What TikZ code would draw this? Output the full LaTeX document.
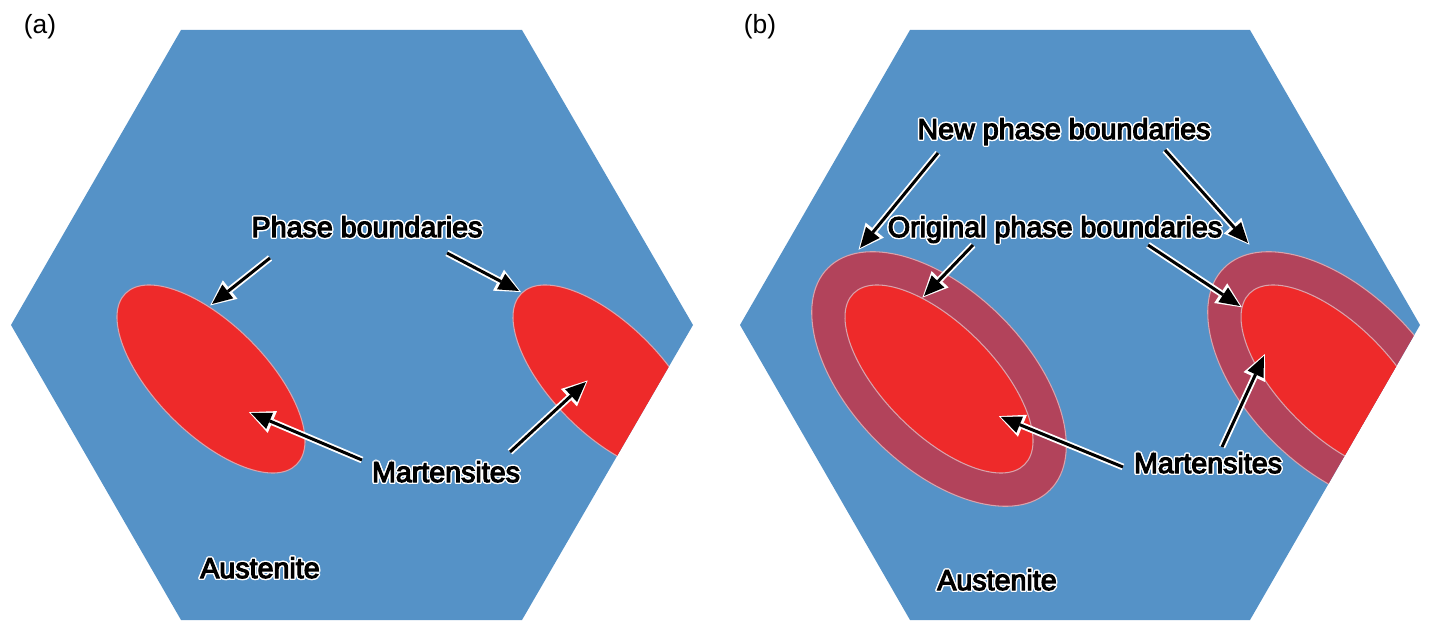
\documentclass[tikz,border=0pt]{standalone}
\usepackage{fontspec}
\setmainfont{Liberation Sans}
\usepackage{tikz}
\usetikzlibrary{arrows.meta}

\definecolor{austen}{HTML}{5592C7}
\definecolor{marten}{HTML}{EE2A2A}
\definecolor{grown}{HTML}{B2435B}
\definecolor{rim}{HTML}{D9A3AC}

\font\glowfont="Liberation Sans:color=FFFFFF;embolden=4" at 16.3pt
\font\inkfont="Liberation Sans:color=000000;embolden=4" at 16.3pt

\newcommand\halolabel[3]{%
  \foreach \ang in {0,30,...,330}
    \node[lbl, shift={(\ang:0.8pt)}] at (#2) {\glowfont #3};
  \node[lbl] (#1) at (#2) {\inkfont #3};}

\begin{document}
\begin{tikzpicture}[x=0.02cm, y=-0.02cm,
                    grain/.style={fill=austen},
                    mart/.style={fill=marten, draw=rim, line width=.6pt},
                    ring/.style={fill=grown, draw=rim, line width=.6pt},
                    lbl/.style={anchor=base, inner sep=0pt},
                    tag/.style={font=\fontsize{15}{17}\selectfont, anchor=base, inner sep=0pt},
                    arr/.style={line width=1.7pt, -{Triangle[length=11.5pt, width=10pt, line width=0pt]},
                      preaction={draw=white, line width=3.8pt, shorten >=-1.3pt,
                        -{Triangle[length=14.5pt, width=13.5pt, line width=0pt]}}}]
      \useasboundingbox (0,0) rectangle (1440,638);

      \fill[grain] (181,30) -- (522,30) -- (693,325) -- (522,620) -- (181,620) -- (11,325) -- cycle;
      \begin{scope}
        \clip (181,30) -- (522,30) -- (693,325) -- (522,620) -- (181,620) -- (11,325) -- cycle;
        \filldraw[mart, shift={(211,379)}, rotate=-45] (0,0) ellipse (121 and 55);
        \filldraw[mart, shift={(607,379)}, rotate=-45] (0,0) ellipse (121 and 55);
      \end{scope}

      \fill[grain] (910,30) -- (1250,30) -- (1420,325) -- (1250,620) -- (910,620) -- (740,325) -- cycle;
      \begin{scope}
        \clip (910,30) -- (1250,30) -- (1420,325) -- (1250,620) -- (910,620) -- (740,325) -- cycle;
        \filldraw[ring, shift={(939,379)}, rotate=-45] (0,0) ellipse (157 and 88);
        \filldraw[mart, shift={(939,379)}, rotate=-45] (0,0) ellipse (121 and 55);
        \filldraw[ring, shift={(1335,379)}, rotate=-45] (0,0) ellipse (157 and 88);
        \filldraw[mart, shift={(1335,379)}, rotate=-45] (0,0) ellipse (121 and 55);
      \end{scope}

      \node[tag] (labA) at (40,34) {(a)};
      \halolabel{pbA}{367,237}{Phase boundaries}
      \halolabel{maA}{446,482}{Martensites}
      \halolabel{auA}{260,578}{Austenite}

      \node[tag] (labB) at (760,34) {(b)};
      \halolabel{npB}{1064,139}{New phase boundaries}
      \halolabel{opB}{1055,237}{Original phase boundaries}
      \halolabel{maB}{1208,473}{Martensites}
      \halolabel{auB}{997,590}{Austenite}

      \coordinate (pbA1) at (270,258);
      \coordinate (pbA2) at (447,253);
      \coordinate (maA1) at (362,460);
      \coordinate (maA2) at (510,452);
      \coordinate (edgeA1) at (212,304);
      \coordinate (edgeA2) at (519,291);
      \coordinate (coreA1) at (251,413);
      \coordinate (coreA2) at (586,382);

      \draw[arr] (pbA1) -- (edgeA1);
      \draw[arr] (pbA2) -- (edgeA2);
      \draw[arr] (maA1) -- (coreA1);
      \draw[arr] (maA2) -- (coreA2);

      \coordinate (npB1) at (938,153);
      \coordinate (npB2) at (1165,150);
      \coordinate (opB1) at (973,245);
      \coordinate (opB2) at (1148,245);
      \coordinate (maB1) at (1123,467);
      \coordinate (maB2) at (1222,447);
      \coordinate (outB1) at (860,248);
      \coordinate (outB2) at (1248,243);
      \coordinate (inB1) at (924,296);
      \coordinate (inB2) at (1240,306);
      \coordinate (coreB1) at (1001,417);
      \coordinate (coreB2) at (1264,356);

      \draw[arr] (npB1) -- (outB1);
      \draw[arr] (npB2) -- (outB2);
      \draw[arr] (opB1) -- (inB1);
      \draw[arr] (opB2) -- (inB2);
      \draw[arr] (maB1) -- (coreB1);
      \draw[arr] (maB2) -- (coreB2);
    \end{tikzpicture}
\end{document}
